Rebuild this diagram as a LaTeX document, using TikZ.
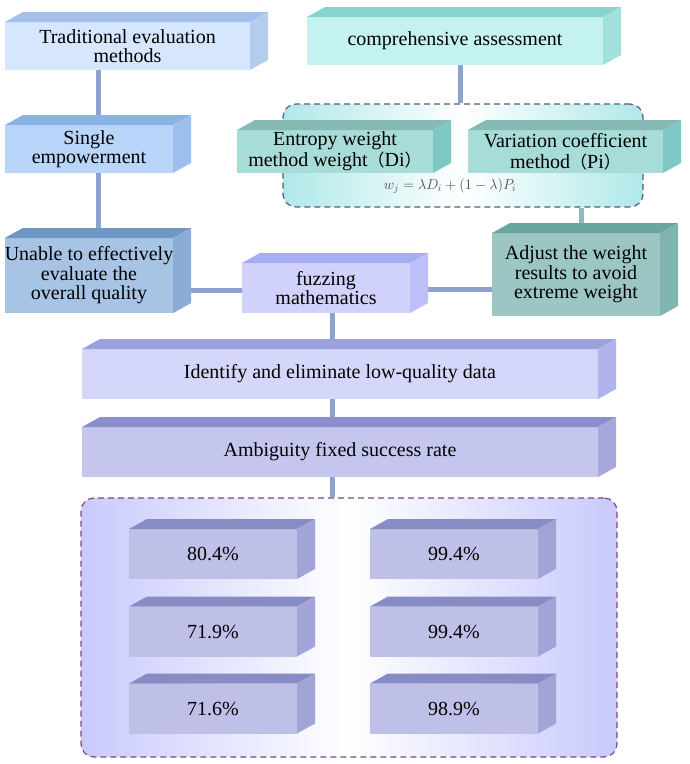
\documentclass[tikz,border=0pt]{standalone}
\usepackage{fontspec}
\setmainfont{Liberation Serif}
\newfontfamily\cjk[Scale=0.85]{Noto Sans CJK SC}
\usetikzlibrary{backgrounds}

\definecolor{linkblue}{HTML}{8DA2CC}
\definecolor{linkteal}{HTML}{8FB9BC}
\definecolor{wgroupC}{HTML}{B0E8E8}
\definecolor{rgroupC}{HTML}{C8CAFC}
\definecolor{tradF}{HTML}{D6E6FC}\definecolor{tradT}{HTML}{A4C0EA}\definecolor{tradS}{HTML}{B4CDEF}
\definecolor{singF}{HTML}{B9D6FA}\definecolor{singT}{HTML}{8AB2E6}\definecolor{singS}{HTML}{9DBFEE}
\definecolor{unabF}{HTML}{A8C4E4}\definecolor{unabT}{HTML}{6F97C6}\definecolor{unabS}{HTML}{8CACD8}
\definecolor{compF}{HTML}{C4F2F0}\definecolor{compT}{HTML}{88D2D0}\definecolor{compS}{HTML}{A2E0DE}
\definecolor{weigF}{HTML}{A8DCD8}\definecolor{weigT}{HTML}{86B8B4}\definecolor{weigS}{HTML}{7EC8C4}
\definecolor{adjF}{HTML}{9CC6C4}\definecolor{adjT}{HTML}{6AA6A0}\definecolor{adjS}{HTML}{80B4B0}
\definecolor{fuzF}{HTML}{D0D2FC}\definecolor{fuzT}{HTML}{A8ACF4}\definecolor{fuzS}{HTML}{BCBFF8}
\definecolor{idF}{HTML}{D4D6FA}\definecolor{idT}{HTML}{9CA0DC}\definecolor{idS}{HTML}{B0B3EC}
\definecolor{ambF}{HTML}{C4C6EE}\definecolor{ambT}{HTML}{8A8ECC}\definecolor{ambS}{HTML}{A6A8DC}
\definecolor{rateF}{HTML}{BEC0E8}\definecolor{rateT}{HTML}{888CC4}\definecolor{rateS}{HTML}{A2A4D8}

\tikzset{
  blk/.style={rectangle, inner sep=0pt, outer sep=0pt, align=center,
    font=\fontsize{20}{19.5}\selectfont},
  wblk/.style={blk, fill=weigF, minimum height=43, font=\fontsize{20}{21}\selectfont},
  rate/.style={blk, fill=rateF, minimum width=168, minimum height=50},
  link/.style={draw=linkblue, line width=5pt},
  dashbox/.style={rectangle, rounded corners=13pt, dash pattern=on 6pt off 4pt,
    line width=1.2pt, inner sep=0pt},
}

% top and right faces of a block
\newcommand{\boxfaces}[3]{%
  \fill[#2] (#1.north west) -- ++(18,-10) -- ([shift={(18,-10)}]#1.north east) -- (#1.north east) -- cycle;
  \fill[#3] (#1.north east) -- ++(18,-10) -- ([shift={(18,-10)}]#1.south east) -- (#1.south east) -- cycle;
}

\begin{document}
\begin{tikzpicture}[x=1pt, y=-1pt]
\useasboundingbox (0,0) rectangle (690,764);

% left column
\node[blk, fill=tradF, minimum width=245, minimum height=48] (trad) at (127.5,46) {Traditional evaluation\\methods};
\node[blk, fill=singF, minimum width=168, minimum height=48] (single) at (89,149) {Single\\empowerment};
\node[blk, fill=unabF, minimum width=168, minimum height=75] (unable) at (89,275.5) {Unable to effectively\\evaluate the\\overall quality};
\boxfaces{trad}{tradT}{tradS}
\boxfaces{single}{singT}{singS}
\boxfaces{unable}{unabT}{unabS}

% right column
\node[blk, fill=compF, minimum width=296, minimum height=48] (comp) at (455,41) {comprehensive assessment};
\node[wblk, minimum width=196] (entropy) at (335,151.5) {Entropy weight\\method weight{\cjk （}Di{\cjk ）}};
\node[wblk, minimum width=195] (variation) at (565.5,151.5) {Variation coefficient\\method{\cjk （}Pi{\cjk ）}};
\node[font=\fontsize{14.5}{16}\selectfont, text=black!70] (formula) at (450,186) {$w_j = \lambda D_i + (1-\lambda)P_i$};
\node[blk, fill=adjF, minimum width=168, minimum height=83] (adjust) at (576,274.5) {Adjust the weight\\results to avoid\\extreme weight};
\boxfaces{comp}{compT}{compS}
\boxfaces{entropy}{weigT}{weigS}
\boxfaces{variation}{weigT}{weigS}
\boxfaces{adjust}{adjT}{adjS}

% middle
\node[blk, fill=fuzF, minimum width=168, minimum height=50] (fuzzy) at (326,288) {fuzzing\\mathematics};
\node[blk, fill=idF, minimum width=516, minimum height=50] (identify) at (340,374) {Identify and eliminate low-quality data};
\node[blk, fill=ambF, minimum width=516, minimum height=50] (ambig) at (340,452) {Ambiguity fixed success rate};
\boxfaces{fuzzy}{fuzT}{fuzS}
\boxfaces{identify}{idT}{idS}
\boxfaces{ambig}{ambT}{ambS}

% success rates
\node[rate] (r1) at (213,554) {80.4\%};
\node[rate] (r2) at (454,554) {99.4\%};
\node[rate] (r3) at (213,631.5) {71.9\%};
\node[rate] (r4) at (454,631.5) {99.4\%};
\node[rate] (r5) at (213,708.5) {71.6\%};
\node[rate] (r6) at (454,708.5) {98.9\%};
\foreach \r in {r1,r2,r3,r4,r5,r6} {\boxfaces{\r}{rateT}{rateS}}

\begin{pgfonlayer}{background}
\node[dashbox, draw=black!40!blue!30!gray, left color=wgroupC, right color=wgroupC, middle color=white,
  minimum width=360, minimum height=103] (wgroup) at (463,155.5) {};
\node[dashbox, draw=violet!45!gray, left color=rgroupC, right color=rgroupC, middle color=white,
  minimum width=536, minimum height=259] (rgroup) at (349,627.5) {};

\draw[link] (trad.south -| 98,0) -- (single.north -| 98,0);
\draw[link] (single.south -| 98,0) -- (unable.north -| 98,0);
\draw[link] (unable.east |- 0,290) -- (fuzzy.west |- 0,290);
\draw[link] (fuzzy.east |- 0,289) -- (adjust.west |- 0,289);
\draw[link] (comp.south -| 460,0) -- (wgroup.north -| 460,0);
\draw[link, draw=linkteal] (wgroup.south -| 581,0) -- (adjust.north -| 581,0);
\draw[link] (fuzzy.south -| 332,0) -- (identify.north -| 332,0);
\draw[link] (identify.south -| 332,0) -- (ambig.north -| 332,0);
\draw[link] (ambig.south -| 332,0) -- (rgroup.north -| 332,0);
\end{pgfonlayer}
\end{tikzpicture}
\end{document}
